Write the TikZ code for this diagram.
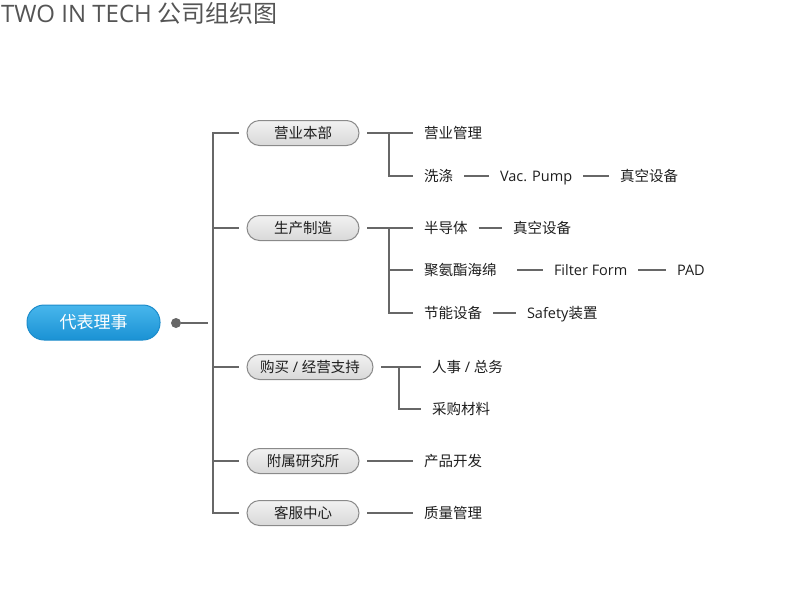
\documentclass[tikz,border=0pt]{standalone}
\usepackage{fontspec}
\setmainfont{Noto Sans CJK SC}
\newfontfamily\lat{Open Sans}
\definecolor{linegray}{HTML}{676767}
\definecolor{textdark}{HTML}{1E1E1E}
\definecolor{titlegray}{HTML}{555555}
\definecolor{rootedge}{HTML}{1C8CCB}
\definecolor{roottop}{HTML}{48B6EC}
\definecolor{rootbot}{HTML}{1A92D4}
\definecolor{deptedge}{HTML}{8A8A8A}
\definecolor{depttop}{HTML}{F2F2F2}
\definecolor{deptbot}{HTML}{D8D8D8}
\tikzstyle{root} = [rounded corners=17pt, minimum width=133pt, minimum height=35pt, draw=rootedge, line width=1pt, top color=roottop, bottom color=rootbot, text=white, font=\fontsize{17}{17}\selectfont]
\tikzstyle{dept} = [rounded corners=12.5pt, minimum width=112pt, minimum height=25pt, draw=deptedge, line width=1pt, top color=depttop, bottom color=deptbot, text=textdark, outer xsep=8pt, font=\fontsize{14.5}{14.5}\selectfont]
\tikzstyle{leaf} = [anchor=west, inner xsep=0pt, outer xsep=11pt, text height=12pt, text depth=1.5pt, text=textdark, font=\fontsize{14.5}{14.5}\selectfont]
\tikzstyle{conn} = [draw=linegray, line width=2.6pt]

\begin{document}
\begin{tikzpicture}[x=1pt,y=-1pt]
    \useasboundingbox (0,0) rectangle (800,611);
    \node[anchor=base west, inner sep=0pt, text=titlegray, font=\fontsize{24}{24}\selectfont] (title) at (1,22) {{\lat TWO IN TECH} 公司组织图};

    \node[root] (ceo) at (93.5,322.5) {代表理事};
    \node[circle, fill=linegray, inner sep=0pt, minimum size=10pt] (dot) at (176,323) {};
    \coordinate (trunk) at (213,323);

    \node[dept] (sales) at (303,133) {营业本部};
    \node[dept] (prod) at (303,228) {生产制造};
    \node[dept, minimum width=126pt] (buy) at (310,367) {购买{\lat\ / }经营支持};
    \node[dept] (lab) at (303,461) {附属研究所};
    \node[dept] (cs) at (303,513) {客服中心};

    \node[leaf] (smgmt) at (413,133) {营业管理};
    \node[leaf] (wash) at (413,176) {洗涤};
    \node[leaf] (pump) at (489,176) {\lat Vac. Pump};
    \node[leaf] (vac1) at (609,176) {真空设备};
    \node[leaf] (semi) at (413,228) {半导体};
    \node[leaf] (vac2) at (502,228) {真空设备};
    \node[leaf, text width=82pt, align=left] (foam) at (413,270) {聚氨酯海绵};
    \node[leaf] (filter) at (543,270) {\lat Filter Form};
    \node[leaf] (pad) at (666,270) {\lat PAD};
    \node[leaf] (energy) at (413,313) {节能设备};
    \node[leaf] (safety) at (516,313) {{\lat Safety}装置};
    \node[leaf] (hr) at (421,367) {人事{\lat\ / }总务};
    \node[leaf] (purch) at (421,409) {采购材料};
    \node[leaf] (rnd) at (413,461) {产品开发};
    \node[leaf] (qm) at (413,513) {质量管理};

    \coordinate (salesj) at (389,133);
    \coordinate (prodj) at (389,228);
    \coordinate (buyj) at (399,367);

    \begin{scope}[conn]
        \draw[shorten >=5pt] (dot) -- (trunk);
        \draw (sales.west) -| (trunk |- cs.west) -- (cs.west);
        \foreach \d in {prod,buy,lab}
            \draw (trunk |- \d.west) -- (\d.west);
        \draw (sales.east) -- (smgmt.west);
        \draw (salesj) |- (wash.west);
        \draw (wash.east) -- (pump.west);
        \draw (pump.east) -- (vac1.west);
        \draw (prod.east) -- (semi.west);
        \draw (prodj) |- (energy.west);
        \draw (prodj |- foam.west) -- (foam.west);
        \draw (semi.east) -- (vac2.west);
        \draw (foam.east) -- (filter.west);
        \draw (filter.east) -- (pad.west);
        \draw (energy.east) -- (safety.west);
        \draw (buy.east) -- (hr.west);
        \draw (buyj) |- (purch.west);
        \draw (lab.east) -- (rnd.west);
        \draw (cs.east) -- (qm.west);
    \end{scope}
\end{tikzpicture}
\end{document}
